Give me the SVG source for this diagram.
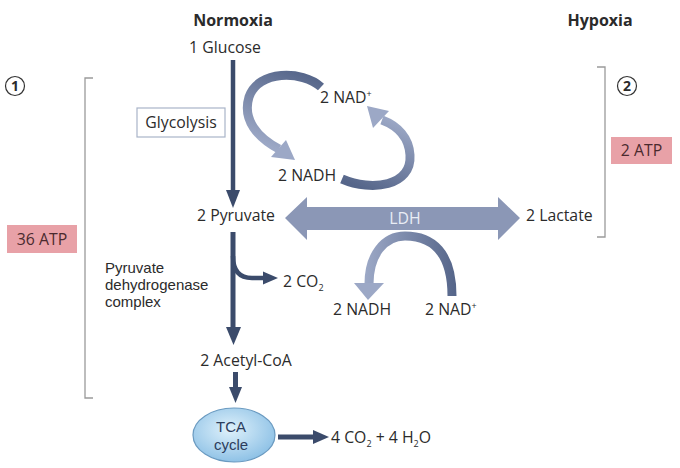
<svg xmlns="http://www.w3.org/2000/svg" width="680" height="468" viewBox="0 0 680 468">
<style>
text{font-family:"Open Sans","Noto Sans",sans-serif;font-size:15.8px;fill:#2b2b2b}
.b{font-weight:bold;font-size:16px}
.sup{font-size:9px}
.sub{font-size:9px}
.dark{fill:#3b4b6b}
.shaft{stroke:#3b4b6b;fill:none}
.br{stroke:#9a9a9a;stroke-width:1.3;fill:none}
.atp{fill:#e8a1a7}
.atpt{fill:#4a2a2e}
.sm{font-family:"Liberation Sans",Arial,sans-serif;font-size:15px}
</style>
<defs>
<linearGradient id="g1" gradientUnits="userSpaceOnUse" x1="321" y1="80" x2="290" y2="155">
<stop offset="0" stop-color="#56668a"/><stop offset="1" stop-color="#9ca8c6"/>
</linearGradient>
<linearGradient id="g2" gradientUnits="userSpaceOnUse" x1="342" y1="180" x2="370" y2="110">
<stop offset="0" stop-color="#56668a"/><stop offset="1" stop-color="#9ca8c6"/>
</linearGradient>
<linearGradient id="g3" gradientUnits="userSpaceOnUse" x1="455" y1="290" x2="365" y2="290">
<stop offset="0" stop-color="#56668a"/><stop offset="1" stop-color="#9ca8c6"/>
</linearGradient>
<radialGradient id="tca" cx="0.45" cy="0.4" r="0.6">
<stop offset="0" stop-color="#dff1fb"/><stop offset="1" stop-color="#8fc2e6"/>
</radialGradient>
</defs>

<g id="titles">
<text class="b" x="233" y="26" text-anchor="middle">Normoxia</text>
<text class="b" x="600" y="26" text-anchor="middle">Hypoxia</text>
</g>

<g id="brackets">
<path class="br" d="M93,78 H85 V398 H93"/>
<path class="br" d="M597,67 H605 V237 H597"/>
</g>

<g id="marker1">
<circle cx="15" cy="86" r="9.5" fill="none" stroke="#333" stroke-width="1.2"/>
<text class="b" x="15" y="91" text-anchor="middle" style="font-size:14px">1</text>
</g>
<g id="marker2">
<circle cx="627" cy="86" r="9.5" fill="none" stroke="#333" stroke-width="1.2"/>
<text class="b" x="627" y="91" text-anchor="middle" style="font-size:14px">2</text>
</g>

<g id="atp36">
<rect class="atp" x="7" y="225" width="70" height="28"/>
<text class="atpt" x="42" y="245" text-anchor="middle">36 ATP</text>
</g>
<g id="atp2">
<rect class="atp" x="611" y="137" width="61" height="27"/>
<text class="atpt" x="641.5" y="156" text-anchor="middle">2 ATP</text>
</g>

<g id="connectors">
<line class="shaft" x1="233" y1="60" x2="233" y2="192" stroke-width="4.5"/>
<polygon class="dark" points="226,190 240,190 233,208"/>
<line class="shaft" x1="233" y1="232" x2="233" y2="330" stroke-width="5"/>
<polygon class="dark" points="226,327 241,327 233.5,345"/>
<path class="shaft" d="M233,256 Q233,278 252,278 L265,278" stroke-width="4.5"/>
<polygon class="dark" points="263,271.5 263,284.5 278,278"/>
<line class="shaft" x1="235.5" y1="372" x2="235.5" y2="390" stroke-width="5"/>
<polygon class="dark" points="229,387 242,387 235.5,403"/>
<line class="shaft" x1="278" y1="437" x2="316" y2="437" stroke-width="5"/>
<polygon class="dark" points="313,430 313,444 329,437"/>
<path d="M321,87 C302,70 258,70 249,97 C242,120 258,138 279,149" fill="none" stroke="url(#g1)" stroke-width="9"/>
<polygon points="286,140 271,157 295,160" fill="#9ca8c6"/>
<path d="M342,179 C372,192 412,186 410,155 C409,138 398,126 382,120" fill="none" stroke="url(#g2)" stroke-width="9"/>
<polygon points="389,111 373,128 367,106" fill="#9ca8c6"/>
<polygon points="285,218 307,197 307,207 498,207 498,197 520,218 498,240 498,230 307,230 307,240" fill="#8b97b6"/>
<path d="M452,296 C452,252 432,236 405,236 C384,236 369,255 369,284" fill="none" stroke="url(#g3)" stroke-width="9"/>
<polygon points="354,283 384,283 368,300" fill="#9ca8c6"/>
</g>

<g id="glucose"><text x="225" y="53" text-anchor="middle">1 Glucose</text></g>
<g id="glycolysis">
<rect x="137" y="108" width="88" height="29" fill="#fff" stroke="#a9b4c8" stroke-width="1.2"/>
<text x="181" y="128" text-anchor="middle">Glycolysis</text>
</g>
<g id="nad1"><text x="320" y="103">2 NAD<tspan class="sup" dy="-6">+</tspan></text></g>
<g id="nadh1"><text x="278" y="181">2 NADH</text></g>
<g id="pyruvate"><text x="236" y="221" text-anchor="middle">2 Pyruvate</text></g>
<g id="ldh"><text x="405" y="224" text-anchor="middle" style="fill:#e9edf5">LDH</text></g>
<g id="lactate"><text x="526" y="221">2 Lactate</text></g>
<g id="pdh">
<text class="sm" x="105" y="273">Pyruvate</text>
<text class="sm" x="105" y="290">dehydrogenase</text>
<text class="sm" x="105" y="307">complex</text>
</g>
<g id="co2"><text x="283" y="287">2 CO<tspan class="sub" dy="4">2</tspan></text></g>
<g id="nadh2"><text x="333" y="315">2 NADH</text></g>
<g id="nad2"><text x="425" y="315">2 NAD<tspan class="sup" dy="-6">+</tspan></text></g>
<g id="acetyl"><text x="246" y="366" text-anchor="middle">2 Acetyl-CoA</text></g>
<g id="tca">
<ellipse cx="234" cy="435" rx="41" ry="27" fill="url(#tca)" stroke="#6a9ac0" stroke-width="1.2"/>
<text class="sm" x="231" y="432" text-anchor="middle" style="fill:#2c3d5c">TCA</text>
<text class="sm" x="231" y="450" text-anchor="middle" style="fill:#2c3d5c">cycle</text>
</g>
<g id="products"><text x="331" y="443">4 CO<tspan class="sub" dy="4">2</tspan><tspan dy="-4"> + 4 H</tspan><tspan class="sub" dy="4">2</tspan><tspan dy="-4">O</tspan></text></g>
</svg>
